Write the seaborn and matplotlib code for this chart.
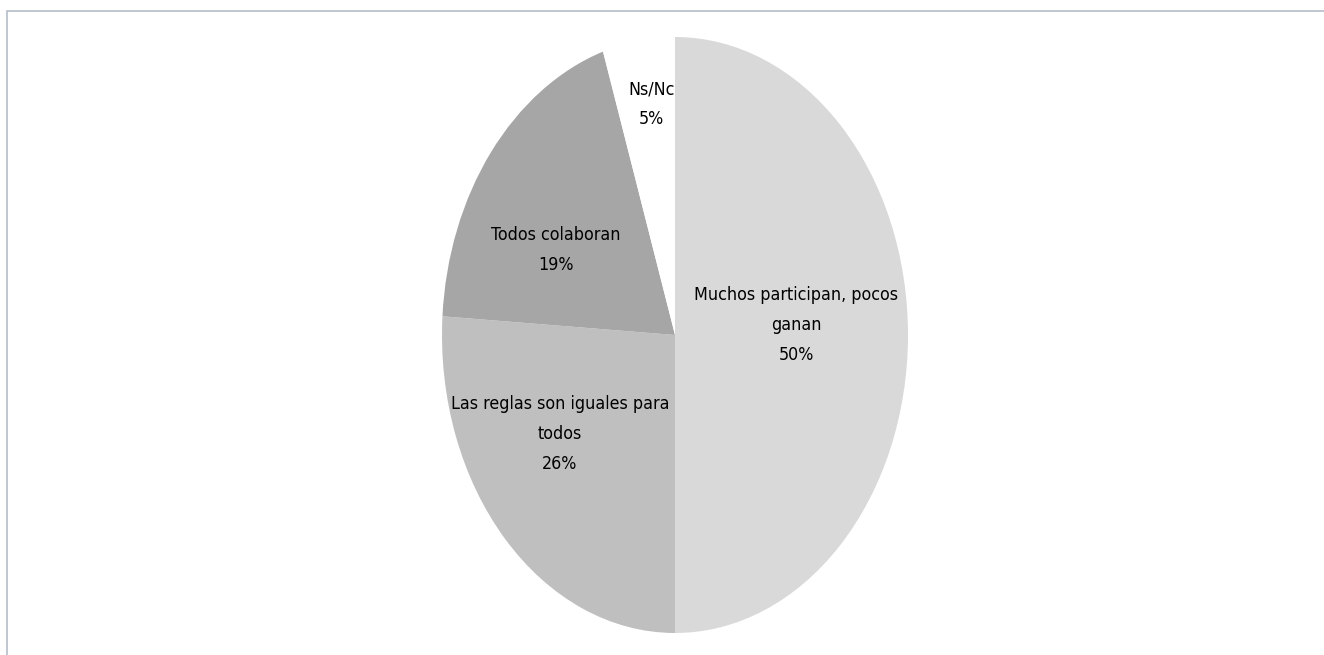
import matplotlib
matplotlib.use("Agg")
import matplotlib.pyplot as plt
import matplotlib.patches as mpatches
import seaborn as sns

# data
categories = ["Muchos participan, pocos\nganan", "Las reglas son iguales para\ntodos",
              "Todos colaboran", "Ns/Nc"]
shares = [50, 26, 19, 5]
slice_colors = ["#d9d9d9", "#bfbfbf", "#a6a6a6", "#ffffff"]

# label anchor points (axes data units, pie radius = 1)
label_pos = [(0.52, 0.034), (-0.494, -0.332), (-0.51, 0.285), (-0.10, 0.775)]

sns.set_style("white")
plt.rcParams["font.family"] = ["Liberation Sans Narrow", "DejaVu Sans"]

W, H = 1324, 655
fig = plt.figure(figsize=(W / 100, H / 100), dpi=100)

# pie is stretched vertically, so place axes on the ellipse box
cx, cy, rx, ry = 675, 335, 233, 298
ax = fig.add_axes([(cx - rx) / W, (H - cy - ry) / H, 2 * rx / W, 2 * ry / H])

wedges, _ = ax.pie(shares, colors=slice_colors, startangle=90, counterclock=False,
                   radius=1, wedgeprops=dict(linewidth=0))
ax.set_aspect("auto")
ax.set_xlim(-1, 1)
ax.set_ylim(-1, 1)
ax.axis("off")

for w, name, val, (x, y) in zip(wedges, categories, shares, label_pos):
    t = ax.text(x, y, f"{name}\n{val}%", ha="center", va="center",
                fontsize=12.8, fontstretch="condensed", linespacing=1.85,
                color="#000000")
    # the small slice label is cut off by the neighbouring slice
    if val == min(shares):
        t.set_clip_path(w)

# thin chart-area frame
frame = mpatches.Rectangle((7 / W, -0.05), 1.2, 1 - 10.5 / H + 0.05,
                           transform=fig.transFigure, fill=False,
                           edgecolor="#b6bdc9", linewidth=1.2)
fig.add_artist(frame)

fig.savefig("out.png", dpi=100)
